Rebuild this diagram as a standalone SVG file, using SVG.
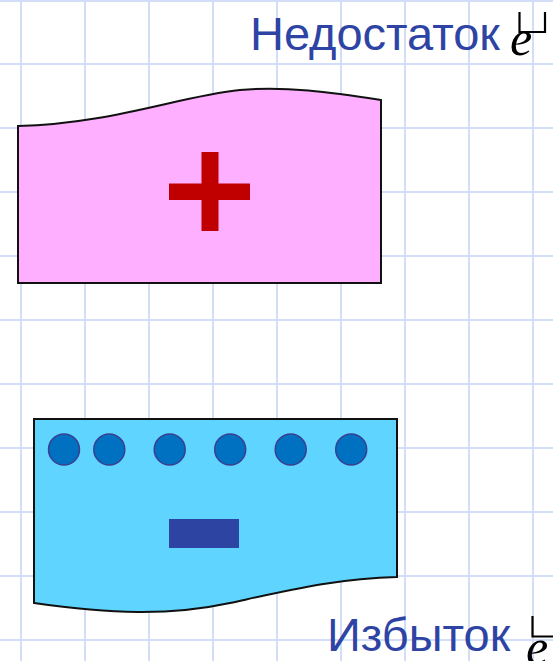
<svg xmlns="http://www.w3.org/2000/svg" width="553" height="661" viewBox="0 0 553 661">
<style>
.grid line{stroke:#D2DDF8;stroke-width:2}
.plate{stroke:#111;stroke-width:2;stroke-linejoin:miter}
.dot{fill:#0070C0;stroke:#3B3F92;stroke-width:1.5}
.lbl{font-family:"Liberation Sans",Arial,sans-serif;font-size:47px;fill:#2E44A4}
.ev{font-family:"Liberation Serif","Times New Roman",serif;font-style:italic;font-size:50px;fill:#000}
.mark{fill:none;stroke:#000;stroke-width:2.2}
</style>
<rect width="553" height="661" fill="#fff"/>
<g id="grid" class="grid">
<line x1="21" y1="0" x2="21" y2="661"/>
<line x1="85" y1="0" x2="85" y2="661"/>
<line x1="149" y1="0" x2="149" y2="661"/>
<line x1="213" y1="0" x2="213" y2="661"/>
<line x1="277" y1="0" x2="277" y2="661"/>
<line x1="341" y1="0" x2="341" y2="661"/>
<line x1="405" y1="0" x2="405" y2="661"/>
<line x1="469" y1="0" x2="469" y2="661"/>
<line x1="533" y1="0" x2="533" y2="661"/>
<line x1="0" y1="1" x2="553" y2="1"/>
<line x1="0" y1="64" x2="553" y2="64"/>
<line x1="0" y1="128" x2="553" y2="128"/>
<line x1="0" y1="192" x2="553" y2="192"/>
<line x1="0" y1="256" x2="553" y2="256"/>
<line x1="0" y1="320" x2="553" y2="320"/>
<line x1="0" y1="384" x2="553" y2="384"/>
<line x1="0" y1="448" x2="553" y2="448"/>
<line x1="0" y1="512" x2="553" y2="512"/>
<line x1="0" y1="576" x2="553" y2="576"/>
<line x1="0" y1="640" x2="553" y2="640"/>
</g>
<g id="positive-plate">
<path class="plate" fill="#FFAFFF" d="M18,126 C110,124 180,96 240,90 C285,86 330,92 381,100 L381,283 L18,283 Z"/>
<rect x="201.5" y="152" width="17" height="79" fill="#C00000"/>
<rect x="169" y="183.5" width="81" height="16.5" fill="#C00000"/>
</g>
<g id="negative-plate">
<path class="plate" fill="#5ED4FF" d="M34,419 L397,419 L397,577 C340,578 290,590 230,603 C170,616 110,614 34,603 Z"/>
<circle class="dot" cx="64" cy="449.5" r="15.5"/>
<circle class="dot" cx="109.3" cy="449.5" r="15.5"/>
<circle class="dot" cx="169.7" cy="449.5" r="15.5"/>
<circle class="dot" cx="230.2" cy="449.5" r="15.5"/>
<circle class="dot" cx="290.7" cy="449.5" r="15.5"/>
<circle class="dot" cx="351.2" cy="449.5" r="15.5"/>
<rect x="169" y="519" width="70" height="29" fill="#2E44A2"/>
</g>
<g id="label-deficit">
<text class="lbl" x="250" y="50">Недостаток</text>
<text class="ev" x="510" y="55">e</text>
<path class="mark" d="M519.5,12 V32 H545 V12"/>
</g>
<g id="label-excess">
<text class="lbl" x="327" y="651">Избыток</text>
<text class="ev" x="526" y="664">e</text>
<path class="mark" d="M532.5,616 V636.5 H553"/>
</g>
</svg>
